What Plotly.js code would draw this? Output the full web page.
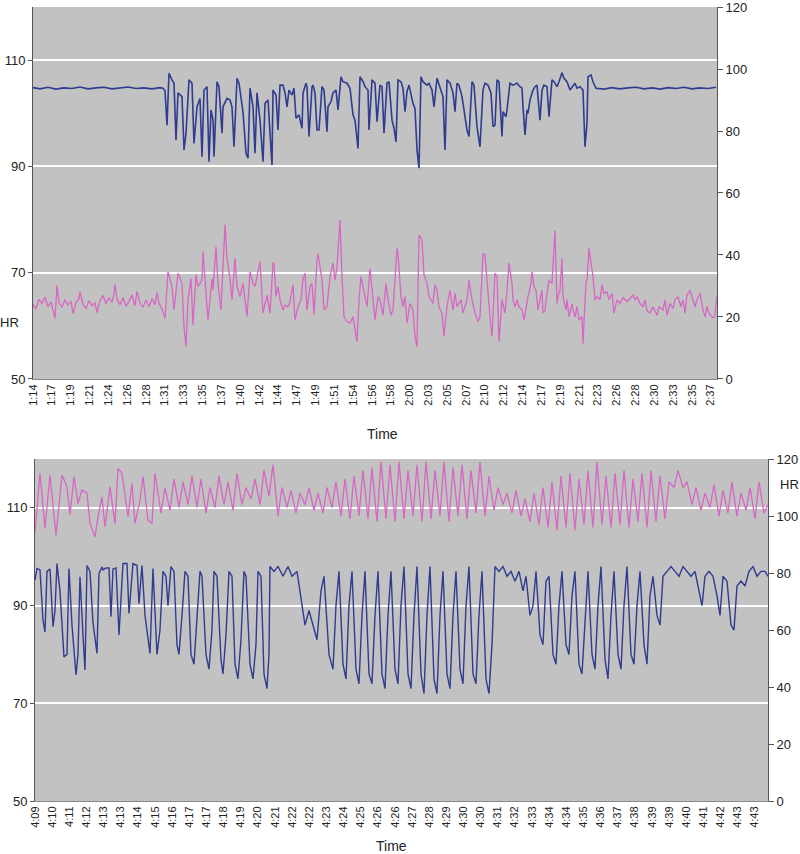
<!DOCTYPE html>
<html>
<head>
<meta charset="utf-8">
<script src="https://cdn.plot.ly/plotly-3.0.1.min.js"></script>
<style>body { margin: 0; background: #fff; }</style>
</head>
<body>
<div id="chart" style="width:800px;height:854px"></div>
<script>
// time labels printed under each panel
var topTicks = ['1:14', '1:17', '1:19', '1:21', '1:24', '1:26', '1:28', '1:31', '1:33', '1:35',
  '1:37', '1:40', '1:42', '1:44', '1:47', '1:49', '1:51', '1:54', '1:56', '1:58', '2:00', '2:03',
  '2:05', '2:07', '2:10', '2:12', '2:14', '2:17', '2:19', '2:21', '2:23', '2:26', '2:28', '2:30',
  '2:33', '2:35', '2:37'];
var bottomTicks = ['4:09', '4:10', '4:11', '4:12', '4:13', '4:13', '4:14', '4:15', '4:16', '4:17',
  '4:17', '4:18', '4:19', '4:20', '4:21', '4:22', '4:22', '4:23', '4:24', '4:25', '4:26', '4:26',
  '4:27', '4:28', '4:29', '4:30', '4:30', '4:31', '4:32', '4:33', '4:34', '4:34', '4:35', '4:36',
  '4:37', '4:38', '4:39', '4:39', '4:40', '4:41', '4:42', '4:43', '4:43'];

// top panel, SpO2 (right axis) - sample number from start of record
var topSpo2Sample = [0, 7, 15, 23, 31, 39, 47, 55, 63, 71, 79, 87, 95, 103, 111, 119, 127, 130,
  132, 134, 136, 139, 141, 143, 145, 149, 151, 153, 156, 159, 161, 164, 167, 169, 171, 174, 176,
  178, 180, 181, 184, 186, 189, 190, 194, 197, 199, 201, 204, 206, 210, 213, 215, 217, 220, 222,
  224, 227, 230, 232, 235, 239, 240, 243, 245, 247, 250, 252, 254, 256, 259, 261, 263, 266, 269,
  270, 273, 274, 276, 279, 280, 282, 284, 286, 289, 291, 294, 295, 298, 300, 303, 305, 308, 310,
  314, 317, 320, 322, 325, 327, 330, 332, 335, 336, 339, 342, 344, 347, 349, 351, 354, 356, 359,
  361, 363, 365, 368, 370, 372, 374, 376, 380, 382, 384, 386, 388, 390, 394, 396, 399, 401, 404,
  407, 410, 412, 414, 417, 420, 422, 424, 426, 429, 431, 434, 436, 439, 441, 444, 447, 450, 452,
  455, 458, 460, 462, 464, 466, 469, 470, 473, 474, 477, 480, 484, 487, 489, 490, 492, 494, 495,
  497, 500, 502, 504, 507, 509, 511, 514, 516, 519, 521, 524, 526, 529, 531, 534, 537, 540, 542,
  544, 547, 550, 551, 552, 554, 555, 558, 560, 563, 571, 579, 587, 595, 603, 611, 619, 627, 635,
  643, 651, 659, 667, 675, 683];
var topSpo2 = [94.0, 93.6, 94.1, 93.5, 93.9, 93.7, 94.2, 93.6, 93.9, 94.1, 93.6, 93.9, 94.2, 93.7, 93.9, 93.6, 94.0, 93.8,
  93.0, 81.9, 98.6, 96.5, 95.4, 77.1, 92.3, 91.1, 73.9, 79.3, 96.5, 95.4, 76.0, 87.8, 90.5, 71.7, 93.2, 94.3, 70.1,
  86.8, 83.5, 71.7, 95.9, 94.3, 79.3, 87.8, 90.5, 90.0, 87.8, 74.9, 97.0, 95.4, 86.2, 72.8, 71.2, 93.8, 87.8, 72.8,
  92.3, 83.5, 70.1, 88.9, 90.0, 69.0, 93.2, 91.6, 80.3, 94.8, 94.8, 92.3, 87.8, 93.2, 91.6, 93.8, 84.1, 85.2, 80.9,
  92.3, 95.4, 94.3, 78.2, 94.3, 94.8, 92.3, 80.3, 80.3, 94.3, 93.2, 79.8, 87.8, 89.5, 92.3, 93.2, 86.8, 97.5, 95.9,
  95.4, 93.8, 85.2, 83.5, 74.4, 97.5, 95.9, 94.3, 93.2, 80.3, 96.5, 95.4, 83.0, 94.8, 94.3, 79.3, 95.4, 95.9, 83.5,
  80.9, 76.5, 96.5, 95.9, 93.8, 86.2, 92.8, 94.8, 88.9, 87.3, 74.0, 68.0, 97.5, 95.9, 94.8, 95.4, 93.2, 87.8, 97.0,
  94.3, 91.1, 73.9, 96.5, 95.4, 92.3, 86.2, 95.4, 94.8, 91.1, 86.8, 80.3, 78.2, 95.9, 94.8, 81.4, 74.9, 93.2, 95.4,
  94.8, 92.3, 81.4, 81.9, 96.5, 95.9, 78.2, 86.2, 84.6, 86.8, 95.4, 94.8, 95.4, 94.3, 93.8, 87.8, 78.7, 86.8, 85.7,
  90.0, 93.2, 94.3, 94.8, 83.5, 93.2, 94.8, 94.3, 84.6, 96.5, 95.9, 94.3, 95.9, 98.8, 97.0, 95.9, 93.2, 94.8, 95.4,
  93.8, 94.3, 93.2, 80.9, 74.9, 82.4, 97.5, 98.1, 95.9, 93.8, 93.5, 94.0, 93.6, 93.9, 94.1, 93.6, 93.9, 93.5, 94.0,
  93.7, 94.1, 93.6, 93.9, 93.7, 94.1];

// top panel, HR (left axis)
var topHrSample = [0, 3, 6, 9, 12, 15, 18, 21, 22, 24, 26, 29, 32, 35, 38, 40, 43, 46, 47, 50,
  53, 56, 59, 62, 64, 67, 70, 73, 76, 79, 81, 82, 84, 87, 90, 93, 96, 99, 102, 104,
  107, 110, 113, 116, 119, 122, 124, 126, 129, 132, 135, 139, 141, 145, 149, 151, 153, 155, 158, 160,
  163, 165, 169, 170, 173, 175, 179, 180, 183, 185, 188, 190, 192, 194, 197, 199, 202, 204, 207, 210,
  214, 217, 220, 222, 227, 230, 234, 237, 240, 241, 243, 245, 247, 250, 252, 255, 257, 260, 262, 265,
  268, 270, 272, 274, 277, 279, 281, 284, 285, 289, 291, 294, 297, 300, 302, 304, 307, 309, 311, 314,
  317, 320, 324, 326, 328, 330, 334, 337, 340, 342, 345, 347, 350, 353, 355, 358, 360, 364, 365, 368,
  370, 372, 374, 377, 380, 382, 384, 386, 389, 391, 394, 396, 400, 402, 404, 406, 409, 411, 414, 417,
  420, 422, 424, 428, 430, 434, 436, 439, 442, 445, 447, 450, 452, 454, 457, 459, 462, 464, 466, 469,
  472, 474, 476, 479, 480, 482, 484, 486, 489, 491, 493, 495, 498, 499, 501, 503, 505, 507, 509, 510,
  512, 514, 516, 519, 520, 522, 524, 525, 527, 529, 530, 533, 534, 536, 539, 540, 542, 544, 546, 549,
  550, 552, 553, 554, 556, 558, 560, 562, 564, 567, 569, 571, 574, 576, 579, 581, 584, 587, 590, 594,
  597, 600, 602, 604, 607, 610, 612, 614, 617, 620, 624, 626, 630, 632, 634, 637, 640, 642, 645, 648,
  650, 652, 654, 657, 660, 662, 664, 667, 670, 672, 674, 676, 680, 682, 684];
var topHr = [64.0, 63.2, 65.0, 64.2, 65.4, 63.6, 64.5, 62.0, 61.4, 67.6, 64.3, 63.5, 64.9, 63.9, 64.6, 62.3, 64.4, 65.1, 66.4, 64.0,
  63.3, 64.7, 63.8, 64.3, 62.5, 64.8, 65.7, 64.1, 65.3, 64.4, 66.0, 67.8, 65.0, 64.0, 65.3, 63.7, 64.6, 65.8, 63.8, 66.5,
  64.3, 63.5, 64.8, 63.6, 65.1, 64.0, 66.3, 64.2, 63.2, 61.4, 70.2, 67.4, 63.0, 69.9, 68.0, 59.8, 56.1, 64.9, 68.9, 60.1,
  69.6, 67.4, 68.6, 74.0, 66.1, 61.1, 68.9, 66.7, 74.9, 68.0, 63.0, 72.4, 79.0, 72.7, 68.9, 64.9, 72.7, 67.4, 65.5, 68.0,
  61.7, 70.2, 68.0, 67.4, 72.1, 62.4, 65.8, 62.4, 71.8, 71.8, 65.5, 67.4, 64.9, 63.0, 63.9, 63.6, 64.6, 67.7, 61.1, 63.6,
  64.9, 68.9, 69.9, 63.0, 67.4, 68.0, 62.0, 72.4, 73.6, 68.6, 63.0, 63.6, 69.3, 71.8, 68.6, 71.1, 79.9, 69.3, 61.7, 60.8,
  60.5, 61.7, 57.0, 64.9, 69.3, 67.4, 63.6, 70.8, 64.9, 61.1, 65.5, 64.9, 62.0, 68.0, 64.9, 62.0, 63.0, 74.6, 73.6, 65.5,
  63.6, 65.5, 60.5, 64.2, 63.0, 58.0, 56.1, 77.1, 76.2, 69.6, 68.0, 65.5, 64.2, 67.7, 66.7, 63.6, 62.4, 58.0, 63.6, 66.7,
  63.0, 66.1, 63.6, 64.9, 62.4, 64.9, 68.6, 64.9, 62.4, 60.8, 61.7, 73.6, 73.3, 68.0, 61.7, 58.0, 69.9, 69.3, 57.0, 64.9,
  62.4, 66.7, 71.8, 68.0, 64.9, 63.6, 64.9, 63.6, 63.0, 61.1, 63.6, 65.5, 68.0, 70.2, 67.4, 66.7, 63.0, 64.9, 66.7, 62.4,
  63.0, 66.1, 68.6, 68.0, 71.8, 78.0, 64.2, 65.5, 66.7, 72.7, 65.5, 63.0, 64.9, 61.7, 64.2, 63.0, 61.7, 63.6, 61.1, 61.7,
  56.7, 64.9, 68.3, 68.6, 74.6, 71.8, 69.3, 64.9, 65.5, 64.9, 67.7, 66.1, 66.4, 64.9, 66.1, 62.4, 64.9, 64.2, 65.3, 64.6,
  65.1, 65.8, 64.9, 65.5, 64.2, 63.6, 64.9, 62.8, 62.4, 63.6, 62.0, 63.6, 63.0, 64.9, 62.0, 64.2, 63.3, 64.9, 65.5, 63.6,
  64.9, 62.4, 65.8, 66.7, 64.9, 63.6, 64.9, 66.1, 63.0, 61.7, 63.6, 62.4, 61.5, 61.8, 65.8];

// bottom panel, SpO2 (left axis)
var bottomSpo2Sample = [0, 2, 5, 8, 10, 12, 15, 18, 20, 22, 25, 29, 32, 34, 37, 41, 43, 45, 48, 50,
  52, 55, 58, 62, 64, 67, 68, 71, 74, 76, 78, 81, 84, 88, 92, 94, 98, 102, 104, 107,
  110, 115, 118, 122, 125, 128, 131, 133, 136, 139, 142, 144, 147, 150, 153, 156, 159, 162, 165, 167,
  171, 174, 177, 179, 182, 186, 188, 191, 194, 197, 200, 203, 206, 209, 211, 215, 218, 221, 223, 226,
  229, 232, 234, 235, 239, 243, 248, 253, 257, 262, 267, 270, 274, 279, 282, 286, 289, 294, 298, 301,
  304, 308, 311, 314, 317, 321, 324, 327, 330, 334, 337, 340, 343, 347, 350, 353, 356, 360, 363, 366,
  369, 373, 376, 379, 382, 386, 389, 392, 395, 399, 402, 405, 408, 412, 415, 418, 421, 425, 428, 431,
  434, 438, 441, 444, 447, 451, 454, 457, 460, 464, 468, 472, 476, 480, 484, 488, 491, 495, 498, 501,
  505, 508, 511, 514, 518, 521, 524, 527, 531, 534, 537, 540, 544, 547, 550, 553, 557, 560, 563, 566,
  570, 573, 576, 579, 583, 586, 589, 592, 596, 599, 602, 605, 609, 612, 615, 618, 622, 625, 628, 632,
  636, 640, 644, 648, 652, 656, 660, 664, 667, 670, 674, 678, 682, 685, 688, 692, 696, 699, 702, 706,
  710, 714, 718, 722, 726, 730, 733];
var bottomSpo2 = [95.2, 97.6, 97.3, 87.0, 84.6, 97.0, 97.5, 85.7, 89.0, 98.6, 93.0, 79.5, 80.0, 97.6, 86.0, 75.8, 80.0, 95.9, 84.0, 76.8,
  98.2, 97.0, 86.5, 80.2, 96.6, 97.9, 97.3, 97.7, 97.7, 87.7, 97.5, 97.7, 84.0, 98.6, 98.6, 88.4, 98.6, 98.2, 90.4, 98.2,
  88.0, 80.2, 97.6, 80.0, 85.0, 97.0, 96.0, 90.0, 98.0, 97.0, 82.0, 80.0, 88.0, 97.0, 96.0, 80.0, 78.0, 88.0, 97.0, 96.0,
  80.0, 77.0, 85.0, 97.0, 96.0, 79.0, 76.0, 84.0, 97.0, 96.0, 78.0, 75.0, 83.0, 97.0, 96.0, 78.0, 75.0, 82.0, 97.0, 96.0,
  76.0, 73.0, 80.0, 98.0, 97.0, 98.0, 96.0, 98.0, 96.0, 97.0, 90.0, 86.0, 89.0, 85.0, 83.0, 93.0, 96.0, 80.0, 77.0, 90.0,
  97.0, 78.0, 75.0, 90.0, 97.0, 77.0, 74.0, 88.0, 97.0, 76.0, 74.0, 88.0, 97.0, 76.0, 73.0, 88.0, 97.0, 77.0, 74.0, 90.0,
  98.0, 76.0, 73.0, 88.0, 98.0, 76.0, 72.0, 88.0, 98.0, 75.0, 72.0, 88.0, 97.0, 76.0, 73.0, 88.0, 97.0, 77.0, 74.0, 90.0,
  98.0, 76.0, 74.0, 88.0, 97.0, 75.0, 72.0, 82.0, 98.0, 97.0, 98.0, 96.0, 97.0, 95.0, 97.0, 93.0, 96.0, 88.0, 90.0, 97.0,
  84.0, 82.0, 95.0, 96.0, 80.0, 78.0, 90.0, 97.0, 82.0, 80.0, 92.0, 97.0, 78.0, 76.0, 88.0, 97.0, 80.0, 77.0, 90.0, 98.0,
  79.0, 75.0, 88.0, 97.0, 80.0, 77.0, 90.0, 98.0, 80.0, 78.0, 90.0, 97.0, 82.0, 78.0, 92.0, 96.0, 88.0, 86.0, 96.0, 97.0,
  98.0, 97.0, 96.0, 98.0, 97.0, 96.0, 97.0, 93.0, 90.0, 96.0, 97.0, 96.0, 92.0, 88.0, 96.0, 95.0, 86.0, 85.0, 94.0, 95.0,
  94.0, 97.0, 98.0, 96.0, 97.0, 97.0, 96.0];

// bottom panel, HR (right axis)
var bottomHrSample = [0, 5, 10, 15, 21, 27, 32, 35, 39, 43, 47, 52, 55, 60, 63, 67, 70, 75, 80, 83,
  87, 90, 93, 97, 100, 105, 108, 113, 117, 120, 126, 130, 135, 139, 144, 148, 153, 157, 162, 166,
  171, 175, 180, 184, 189, 193, 198, 202, 207, 211, 216, 220, 225, 229, 234, 238, 243, 247, 252, 256,
  261, 265, 270, 274, 279, 283, 288, 292, 297, 301, 306, 310, 315, 319, 324, 328, 333, 337, 342, 346,
  351, 355, 360, 364, 369, 373, 378, 382, 387, 391, 396, 400, 405, 409, 414, 418, 423, 427, 432, 436,
  441, 445, 450, 454, 459, 463, 468, 472, 477, 481, 486, 490, 495, 499, 504, 508, 513, 517, 522, 526,
  531, 535, 540, 544, 549, 553, 558, 562, 567, 571, 576, 580, 585, 589, 594, 598, 603, 607, 612, 616,
  621, 625, 630, 634, 639, 643, 648, 652, 657, 661, 666, 670, 675, 679, 684, 688, 693, 697, 702, 706,
  711, 715, 720, 724, 729, 733];
var bottomHr = [94.5, 115.0, 95.7, 114.4, 93.3, 114.4, 110.3, 100.4, 113.8, 104.4, 109.1, 108.0, 97.4, 92.7, 99.7, 106.7, 96.2, 110.3, 97.4, 116.7,
  115.0, 108.0, 99.7, 111.5, 97.4, 105.6, 113.8, 98.5, 97.4, 115.0, 101, 110, 102, 113, 103, 112, 104, 114, 103, 113,
  101, 110, 103, 114, 104, 112, 102, 115, 104, 110, 106, 113, 104, 116, 107, 118, 100, 110, 103, 109,
  101, 108, 104, 110, 102, 108, 101, 110, 103, 112, 100, 113, 99, 114, 100, 116, 99, 117, 98, 119,
  99, 118, 98, 119, 99, 116, 100, 118, 98, 119, 99, 116, 100, 119, 98, 117, 100, 118, 99, 116,
  101, 119, 100, 114, 102, 110, 104, 108, 101, 109, 100, 106, 98, 108, 97, 110, 96, 112, 95, 114,
  96, 115, 95, 113, 97, 116, 96, 119, 97, 114, 96, 115, 97, 116, 96, 113, 98, 115, 96, 116,
  98, 114, 99, 112, 110, 116, 110, 112, 104, 110, 102, 108, 103, 111, 100, 109, 101, 112, 100, 108,
  102, 110, 99, 112, 101, 104];

var topLabelStep = 18.83;
var bottomLabelStep = 17.14;

var blue = '#2f3c8f';
var pink = '#d766c4';
var font = 'Liberation Sans, Arial, sans-serif';

var data = [
  {x: topHrSample, y: topHr, xaxis: 'x', yaxis: 'y', type: 'scatter', mode: 'lines',
    line: {color: pink, width: 1.3}, name: 'HR'},
  {x: topSpo2Sample, y: topSpo2, xaxis: 'x', yaxis: 'y2', type: 'scatter', mode: 'lines',
    line: {color: blue, width: 1.6}, name: 'SpO2'},
  {x: bottomHrSample, y: bottomHr, xaxis: 'x2', yaxis: 'y4', type: 'scatter', mode: 'lines',
    line: {color: pink, width: 1.3}, name: 'HR'},
  {x: bottomSpo2Sample, y: bottomSpo2, xaxis: 'x2', yaxis: 'y3', type: 'scatter', mode: 'lines',
    line: {color: blue, width: 1.4}, name: 'SpO2'}
];

var yLeft = {
  range: [50, 120], tickvals: [50, 70, 90, 110], showgrid: true, gridcolor: '#ffffff', gridwidth: 2,
  zeroline: false, showline: true, linecolor: '#555', linewidth: 1, ticks: 'outside', ticklen: 4,
  tickcolor: '#555', tickfont: {size: 13, color: '#222'}, ticklabeloverflow: 'allow'
};
var yRight = {
  range: [0, 120], tickvals: [0, 20, 40, 60, 80, 100, 120], showgrid: false, zeroline: false,
  showline: true, linecolor: '#555', linewidth: 1, ticks: 'outside', ticklen: 5, tickcolor: '#555',
  side: 'right', tickfont: {size: 13, color: '#222'}, ticklabeloverflow: 'allow'
};
var xCommon = {
  tickmode: 'array', tickangle: -90, tickfont: {size: 11, color: '#222'}, showgrid: false,
  zeroline: false, showline: true, linecolor: '#888', ticks: '', ticklabeloverflow: 'allow'
};

var layout = {
  width: 800,
  height: 854,
  margin: {l: 33, r: 32, t: 7, b: 53},
  paper_bgcolor: '#ffffff',
  plot_bgcolor: '#c2c2c2',
  font: {family: font, color: '#222'},
  showlegend: false,
  xaxis: Object.assign({}, xCommon, {
    domain: [0, 0.9306], range: [0, 684], anchor: 'y',
    tickvals: topTicks.map(function (t, i) { return i * topLabelStep; }), ticktext: topTicks
  }),
  yaxis: Object.assign({}, yLeft, {domain: [0.5315, 1], anchor: 'x'}),
  yaxis2: Object.assign({}, yRight, {overlaying: 'y', anchor: 'x'}),
  xaxis2: Object.assign({}, xCommon, {
    domain: [0.0027, 1], range: [0, 733], anchor: 'y3',
    tickvals: bottomTicks.map(function (t, i) { return i * bottomLabelStep; }), ticktext: bottomTicks
  }),
  yaxis3: Object.assign({}, yLeft, {domain: [0, 0.4307], anchor: 'x2'}),
  yaxis4: Object.assign({}, yRight, {overlaying: 'y3', anchor: 'x2'}),
  annotations: [
    {text: 'Time', xref: 'paper', yref: 'paper', x: 0.476, y: 0.4622, showarrow: false,
      xanchor: 'center', yanchor: 'middle', font: {size: 14}},
    {text: 'Time', xref: 'paper', yref: 'paper', x: 0.488, y: -0.0565, showarrow: false,
      xanchor: 'center', yanchor: 'middle', font: {size: 14}},
    {text: 'HR', xref: 'paper', yref: 'paper', x: -0.0313, y: 0.603, showarrow: false,
      xanchor: 'center', yanchor: 'middle', font: {size: 13}},
    {text: 'HR', xref: 'paper', yref: 'paper', x: 1.0286, y: 0.399, showarrow: false,
      xanchor: 'center', yanchor: 'middle', font: {size: 13}}
  ]
};

Plotly.newPlot('chart', data, layout, {displayModeBar: false});
</script>
</body>
</html>
